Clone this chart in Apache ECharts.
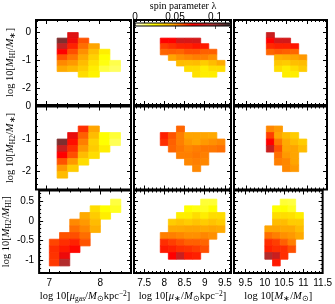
<!DOCTYPE html>
<html><head><meta charset="utf-8">
<script src="https://cdn.jsdelivr.net/npm/echarts@6/dist/echarts.min.js"></script>
<style>html,body{margin:0;padding:0;background:#fff}#c{width:335px;height:304px}</style>
</head><body><div id="c"></div>
<script>
// ---------------- data ----------------
const lambdaStops  = [0, 0.024, 0.048, 0.072, 0.096, 0.12];
const lambdaColors = ['#ffffff', '#ffff00', '#ffa500', '#ff0000', '#a83232', '#2a2a2a'];
const cbarTicks = [0, 0.05, 0.1];

// bin left edges (x) and top edges (y)
const xBinGas    = [7.0, 7.2, 7.4, 7.6, 7.8, 8.0, 8.2];
const xBinMuStar = [7.9, 8.1, 8.3, 8.5, 8.7, 8.9, 9.1, 9.3];
const xBinMStar  = [10.0, 10.2, 10.4, 10.6, 10.8];
const yBinHI     = [0, -0.2, -0.4, -0.6, -0.8, -1.0, -1.2, -1.4];
const yBinH2     = [-0.6, -0.8, -1.0, -1.2, -1.4, -1.6, -1.8, -2.0];
const yBinRatio  = [0.55, 0.38, 0.21, 0.04, -0.13, -0.30, -0.47, -0.64, -0.81, -0.98];
const xBinWidth  = [0.2, 0.2, 0.2];
const yBinHeight = [0.2, 0.2, 0.17];

const _ = null;
// spin parameter per cell, rows top->bottom, columns left->right
const lamHI_gas = [
  [_, _, .081, _, _, _, _],
  [_, .104, .0766, .060, _, _, _],
  [_, .089, .067, .056, .048, _, _],
  [_, .072, .0605, .051, .041, .0285, _],
  [_, .060, .0547, .0467, .036, .024, _],
  [_, .052, .0497, .042, .032, .0225, .017],
  [_, .0467, .043, .0376, .0285, .018, .015],
  [_, _, _, .033, .027, _, _]
];
const lamHI_mu = [
  [_, _, _, _, _, _, _, _],
  [.072, .072, .084, .083, .084, _, _, _],
  [.063, .065, .067, .0673, .069, .068, _, _],
  [.0573, .058, .0573, .060, .060, .058, .058, _],
  [_, .048, .051, .0523, .0535, .0535, .051, _],
  [_, _, .042, .041, .042, .0376, .042, .0467],
  [_, _, _, .033, .033, .0285, .033, .033],
  [_, _, _, _, .032, .0285, .0285, _]
];
const lamHI_ms = [
  [.087, _, _, _, _],
  [.072, .084, .084, _, _],
  [.066, .0673, .0673, .069, _],
  [.0573, .059, .058, .057, _],
  [_, .045, .0467, .048, .0497],
  [_, .039, .0376, .041, .042],
  [_, .033, .0285, .033, .0376],
  [_, _, .0285, .0285, _]
];
const lamH2_gas = [
  [_, _, _, .0653, .048, _, _],
  [_, _, .078, .058, .042, .024, .019],
  [_, .104, .070, .0535, .036, .024, .016],
  [_, .087, .0653, .0497, .0376, .0285, _],
  [_, .072, .0605, .042, .033, _, _],
  [_, .060, .0497, .033, _, _, _],
  [_, .0497, .0376, _, _, _, _],
  [_, .042, _, _, _, _, _]
];
const lamH2_mu = [
  [_, _, .0573, _, _, _, _, _],
  [.0673, .060, .0535, .048, .048, .048, .047, _],
  [.0653, .058, .0535, .0497, .048, .0497, .051, .0523],
  [_, .0573, .0547, .0523, .0535, .0547, .0547, .0558],
  [_, _, .0535, .0535, .0547, .0535, _, _],
  [_, _, _, .0523, .0535, .0523, _, _],
  [_, _, _, _, .0523, _, _, _]
];
const lamH2_ms = [
  [.0523, .0497, _, _, _],
  [.063, .048, .042, .0376, _],
  [.072, .0547, .0467, .042, .0376],
  [.087, .060, .048, .048, .042],
  [_, .0558, .0497, .048, _],
  [_, .0535, .0523, .048, _],
  [_, _, .0523, .0497, _]
];
const lamR_gas = [
  [_, _, _, _, _, _, .018],
  [_, _, _, _, .033, .024, .021],
  [_, _, _, .0467, .0376, .0285, _],
  [_, _, .052, .0497, .042, _, _],
  [_, _, .0558, .0523, .045, _, _],
  [_, .060, .0605, .056, _, _, _],
  [.062, .0653, .067, .060, _, _, _],
  [.0653, .0683, .071, _, _, _, _],
  [.0646, .0766, _, _, _, _, _],
  [.064, .093, _, _, _, _, _]
];
const lamR_mu = [
  [_, _, _, _, _, .019, .019, _],
  [_, _, _, .024, .0225, .021, .024, _],
  [_, _, .0285, .0285, .033, .0285, .033, .033],
  [_, .0376, .040, .0376, .040, .0376, .040, .0376],
  [_, .0467, .047, .048, .048, .0467, .048, .0467],
  [.0535, .0535, .0523, .0511, .0511, .0523, .0511, _],
  [.0653, .063, .0605, .058, .058, .0573, _, _],
  [.0683, .0673, .0653, .0646, .063, .0605, _, _],
  [_, .072, .087, .0683, .0673, _, _, _]
];
const lamR_ms = [
  [_, _, .019, .018, _],
  [_, .024, .024, .021, _],
  [_, .033, .033, .032, .0285],
  [_, .042, .042, .0376, .0376],
  [.048, .048, .0467, .0467, .042],
  [.0558, .0535, .0511, .0497, .0467],
  [.0653, .063, .0582, .0535, _],
  [.0673, .0653, .0653, .0605, _],
  [.093, .087, .0653, _, _],
  [_, .0683, _, _, _]
];

// axis ranges and ticks
const xRange = [[6.8, 8.6], [7.25, 9.65], [9.2, 11.5]];
const xMajor = [[7, 8], [7.5, 8, 8.5, 9, 9.5], [9.5, 10, 10.5, 11, 11.5]];
const xMinorStep = [0.2, 0.1, 0.1];
const yRange = [[-2.6, 0.45], [-2.55, 0], [-1.33, 0.77]];
const yMajor = [[-2, -1, 0], [-2, -1, 0], [-1, -0.5, 0, 0.5]];
const yMinorStep = [0.2, 0.2, 0.1];

// ---------------- layout ----------------
const colLeft = [36, 134, 234], colW = [95, 97, 93];
const rowTop = [20, 106.5, 190.5], rowH = [85, 83, 83.5];
const SERIF = 'Liberation Serif', SANS = 'Liberation Sans';

const panels = [
  [lamHI_gas, lamHI_mu, lamHI_ms],
  [lamH2_gas, lamH2_mu, lamH2_ms],
  [lamR_gas, lamR_mu, lamR_ms]
];
const xBins = [xBinGas, xBinMuStar, xBinMStar];
const yBins = [yBinHI, yBinH2, yBinRatio];

const rich = {
  n: {fontFamily: SERIF, fontSize: 10.5, color: '#000'},
  i: {fontFamily: SERIF, fontSize: 10.5, fontStyle: 'italic', color: '#000'},
  s: {fontFamily: SERIF, fontSize: 7.5, color: '#000', padding: [5, 0, 0, 0]},
  p: {fontFamily: SERIF, fontSize: 7.5, color: '#000', padding: [0, 0, 5, 0]}
};
const xNames = [
  '{n|log 10[}{i|μ}{s|gas}{n|/}{i|M}{s|⊙}{n|kpc}{p|−2}{n|]}',
  '{n|log 10[}{i|μ}{s|∗}{n|/}{i|M}{s|⊙}{n|kpc}{p|−2}{n|]}',
  '{n|log 10[}{i|M}{s|∗}{n|/}{i|M}{s|⊙}{n|]}'
];
const yNames = [
  '{n|log 10[}{i|M}{s|HI}{n|/}{i|M}{s|∗}{n|]}',
  '{n|log 10[}{i|M}{s|H2}{n|/}{i|M}{s|∗}{n|]}',
  '{n|log 10[}{i|M}{s|H2}{n|/}{i|M}{s|HI}{n|]}'
];

function minorTicks(range, step, majors) {
  const out = [];
  const start = Math.ceil(range[0] / step - 1e-6);
  const end = Math.floor(range[1] / step + 1e-6);
  for (let k = start; k <= end; k++) {
    const v = +(k * step).toFixed(4);
    if (!majors.some(m => Math.abs(m - v) < 1e-6)) out.push(v);
  }
  return out;
}

const grids = [], xAxes = [], yAxes = [], series = [];
const dataSeriesIdx = [];

function axisCommon(range) {
  return {type: 'value', min: range[0], max: range[1], splitLine: {show: false},
          axisLine: {show: false, onZero: false}};
}

for (let r = 0; r < 3; r++) {
  for (let c = 0; c < 3; c++) {
    const g = grids.length;
    grids.push({left: colLeft[c], top: rowTop[r], width: colW[c], height: rowH[r],
                show: true, borderColor: '#000', borderWidth: 2, backgroundColor: '#fff'});
    const xmin = minorTicks(xRange[c], xMinorStep[c], xMajor[c]);
    const ymin = minorTicks(yRange[r], yMinorStep[r], yMajor[r]);
    const xi = xAxes.length, yi = yAxes.length;
    ['bottom', 'top'].forEach((pos) => {
      xAxes.push(Object.assign(axisCommon(xRange[c]), {
        gridIndex: g, position: pos,
        axisTick: {show: true, inside: true, length: 4, customValues: xMajor[c], lineStyle: {color: '#000', width: 1}},
        axisLabel: {show: pos === 'bottom' && r === 2, customValues: xMajor[c], margin: 5,
                    fontFamily: SANS, fontSize: 10, color: '#000'},
        name: (pos === 'bottom' && r === 2) ? xNames[c] : '', nameLocation: 'middle', nameGap: 17,
        nameTextStyle: {rich: rich}
      }));
      xAxes.push(Object.assign(axisCommon(xRange[c]), {
        gridIndex: g, position: pos,
        axisTick: {show: true, inside: true, length: 2, customValues: xmin, lineStyle: {color: '#000', width: 1}},
        axisLabel: {show: false}
      }));
    });
    ['left', 'right'].forEach((pos) => {
      yAxes.push(Object.assign(axisCommon(yRange[r]), {
        gridIndex: g, position: pos,
        axisTick: {show: true, inside: true, length: 4, customValues: yMajor[r], lineStyle: {color: '#000', width: 1}},
        axisLabel: {show: pos === 'left' && c === 0, customValues: yMajor[r], margin: 5,
                    fontFamily: SANS, fontSize: 10, color: '#000'},
        name: (pos === 'left' && c === 0) ? yNames[r] : '', nameLocation: 'middle', nameGap: 19, nameRotate: 90,
        nameTextStyle: {rich: rich}
      }));
      yAxes.push(Object.assign(axisCommon(yRange[r]), {
        gridIndex: g, position: pos,
        axisTick: {show: true, inside: true, length: 2, customValues: ymin, lineStyle: {color: '#000', width: 1}},
        axisLabel: {show: false}
      }));
    });
    // cells
    const mat = panels[r][c], data = [];
    mat.forEach((row, iy) => row.forEach((v, ix) => {
      if (v == null) return;
      const x0 = xBins[c][ix], y1 = yBins[r][iy];
      data.push([x0, +(x0 + xBinWidth[c]).toFixed(3), +(y1 - yBinHeight[r]).toFixed(3), y1, v]);
    }));
    dataSeriesIdx.push(series.length);
    series.push({
      type: 'custom', xAxisIndex: xi, yAxisIndex: yi, data: data,
      encode: {x: [0, 1], y: [2, 3]},
      renderItem: function (params, api) {
        const p0 = api.coord([api.value(0), api.value(3)]);
        const p1 = api.coord([api.value(1), api.value(2)]);
        const col = api.visual('color');
        return {type: 'rect', shape: {x: p0[0], y: p0[1], width: p1[0] - p0[0], height: p1[1] - p0[1]},
                style: {fill: col, stroke: col, lineWidth: 0.8}};
      }
    });
  }
}

// colour bar
const cg = grids.length;
grids.push({left: colLeft[1] + 1, top: rowTop[0], width: colW[1] - 1, height: 6, show: false});
const cbx = xAxes.length, cby = yAxes.length;
xAxes.push({type: 'value', gridIndex: cg, position: 'top', min: lambdaStops[0], max: lambdaStops[lambdaStops.length - 1],
  splitLine: {show: false}, axisLine: {show: false, onZero: false}, zlevel: 1,
  axisTick: {show: true, inside: true, length: 6, customValues: [0.05, 0.1], lineStyle: {color: '#555', width: 1}},
  axisLabel: {show: true, customValues: cbarTicks, margin: 1, fontFamily: SANS, fontSize: 10, color: '#000'},
  name: 'spin parameter λ', nameLocation: 'middle', nameGap: 12,
  nameTextStyle: {fontFamily: SERIF, fontSize: 10, color: '#000'}});
yAxes.push({type: 'value', gridIndex: cg, min: 0, max: 1, show: false});
const gradStops = lambdaStops.map((s, i) => ({offset: s / lambdaStops[lambdaStops.length - 1], color: lambdaColors[i]}));
series.push({
  type: 'custom', xAxisIndex: cbx, yAxisIndex: cby, zlevel: 1, clip: false,
  data: [[lambdaStops[0], lambdaStops[lambdaStops.length - 1]]],
  encode: {x: [0, 1]},
  renderItem: function (params, api) {
    const p0 = api.coord([api.value(0), 1]);
    const p1 = api.coord([api.value(1), 0]);
    return {type: 'rect', shape: {x: p0[0], y: p0[1], width: p1[0] - p0[0], height: p1[1] - p0[1]},
            style: {fill: new echarts.graphic.LinearGradient(0, 0, 1, 0, gradStops), stroke: '#000', lineWidth: 1.2}};
  }
});

const chart = echarts.init(document.getElementById('c'), null, {renderer: 'canvas'});
chart.setOption({
  animation: false,
  backgroundColor: '#fff',
  grid: grids, xAxis: xAxes, yAxis: yAxes, series: series,
  visualMap: {type: 'continuous', show: false, min: lambdaStops[0], max: lambdaStops[lambdaStops.length - 1],
              dimension: 4, seriesIndex: dataSeriesIdx, inRange: {color: lambdaColors}}
});
</script></body></html>
